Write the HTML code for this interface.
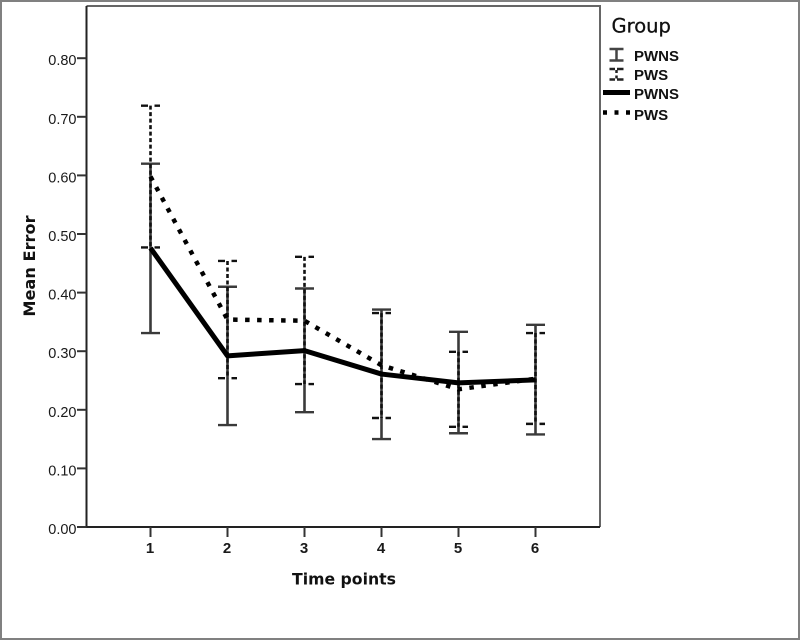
<!DOCTYPE html>
<html>
<head>
<meta charset="utf-8">
<title>Mean Error by Time Point</title>
<style>
html,body{margin:0;padding:0;background:#fff;}
svg{display:block;filter:blur(0.35px);}
text{font-family:"Liberation Sans",sans-serif;fill:#1a1a1a;}
.dj{font-family:"DejaVu Sans",sans-serif;}
</style>
</head>
<body>
<svg id="chart" width="800" height="640" viewBox="0 0 800 640" xmlns="http://www.w3.org/2000/svg">
<rect x="1" y="1" width="798" height="638" fill="#fff" stroke="#808080" stroke-width="2"/>
<rect x="86.5" y="6" width="513.5" height="521" fill="#fff"/>
<g id="marks"></g>
<path d="M86.5 6H600V527" fill="none" stroke="#666" stroke-width="2"/>
<path d="M86.5 6V527H600" fill="none" stroke="#222" stroke-width="2"/>
<g id="axes"></g>
<text class="dj" transform="translate(35 266) rotate(-90)" text-anchor="middle" font-size="16.2" font-weight="700" style="fill:#111">Mean Error</text>
<text class="dj" x="344" y="584.500" text-anchor="middle" font-size="15.700" font-weight="700" style="fill:#111">Time points</text>
<g>
<text class="dj" x="611.500" y="32.500" font-size="19.500" style="fill:#111;stroke:#111;stroke-width:0.3">Group</text>
<path d="M609.500 49H623.500M609.500 60.500H623.500M616.500 49V60.500" fill="none" stroke="#444" stroke-width="2.500"/>
<text x="634" y="61" font-size="15" font-weight="700" style="fill:#111">PWNS</text>
<path d="M609.500 69H623.500M609.500 79.500H623.500" fill="none" stroke="#222" stroke-width="2.500" stroke-dasharray="5.500 2 6.500 0"/>
<path d="M616.500 70V78.500" fill="none" stroke="#222" stroke-width="2.500" stroke-dasharray="3 2.500"/>
<text x="634" y="80" font-size="15" font-weight="700" style="fill:#111">PWS</text>
<line x1="603" y1="92.500" x2="630" y2="92.500" stroke="#000" stroke-width="5"/>
<text x="634" y="99" font-size="15" font-weight="700" style="fill:#111">PWNS</text>
<line x1="603" y1="112.500" x2="630" y2="112.500" stroke="#000" stroke-width="4.500" stroke-dasharray="4 7.500"/>
<text x="634" y="120" font-size="15" font-weight="700" style="fill:#111">PWS</text>
</g>
</svg>
<script>
var categories = [1, 2, 3, 4, 5, 6];
var yTicks = [0, 0.1, 0.2, 0.3, 0.4, 0.5, 0.6, 0.7, 0.8];
var pwnsMean = [0.476, 0.292, 0.301, 0.261, 0.246, 0.251];
var pwnsHigh = [0.620, 0.410, 0.407, 0.371, 0.333, 0.345];
var pwnsLow = [0.331, 0.174, 0.196, 0.150, 0.160, 0.158];
var pwsMean = [0.598, 0.354, 0.352, 0.276, 0.235, 0.253];
var pwsHigh = [0.719, 0.454, 0.461, 0.365, 0.299, 0.331];
var pwsLow = [0.477, 0.254, 0.244, 0.186, 0.171, 0.176];

var NS = 'http://www.w3.org/2000/svg';
function xScale(c) { return 150.5 + (c - 1) * 77; }
function yScale(v) { return 527 - v * 586; }
function make(tag, attrs, parent) {
  var el = document.createElementNS(NS, tag);
  for (var k in attrs) el.setAttribute(k, attrs[k]);
  parent.appendChild(el);
  return el;
}
var marks = document.getElementById('marks');
var axes = document.getElementById('axes');

function drawErrorBars(high, low, label, color, stemDash, capDash) {
  categories.forEach(function (c, i) {
    var x = xScale(c), yh = yScale(high[i]), yl = yScale(low[i]);
    var stem = make('path', {
      d: 'M' + x + ' ' + yh + 'V' + yl,
      fill: 'none', stroke: color, 'stroke-width': 2.6
    }, marks);
    if (stemDash) stem.setAttribute('stroke-dasharray', stemDash);
    
    
    var caps = make('path', {
      d: 'M' + (x - 9.5) + ' ' + yh + 'H' + (x + 9.5) + 'M' + (x - 9.5) + ' ' + yl + 'H' + (x + 9.5),
      fill: 'none', stroke: color, 'stroke-width': 2.4
    }, marks);
    if (capDash) caps.setAttribute('stroke-dasharray', capDash);
    
    
  });
}
function drawLine(values, label, width, dash) {
  var pts = categories.map(function (c, i) { return xScale(c) + ',' + yScale(values[i]); }).join(' ');
  var l = make('polyline', {
    points: pts, fill: 'none', stroke: '#000', 'stroke-width': width, 'stroke-linejoin': 'round'
  }, marks);
  if (dash) l.setAttribute('stroke-dasharray', dash);
  
  
}
drawErrorBars(pwnsHigh, pwnsLow, 'pwns', '#3a3a3a', null, null);
drawErrorBars(pwsHigh, pwsLow, 'pws', '#111', '4 2.5', '7 6.5 5.5 0');
drawLine(pwsMean, 'pws', 4.5, '4.5 7.5');
drawLine(pwnsMean, 'pwns', 5, null);

yTicks.forEach(function (v) {
  var y = yScale(v);
  var t = make('line', { x1: 77, x2: 86.5, y1: y, y2: y, stroke: '#333', 'stroke-width': 2 }, axes);
  
  
  var s = make('text', { x: 76.5, y: y + 7, 'text-anchor': 'end', 'font-size': 14.5 }, axes);
  s.textContent = v.toFixed(2);
  
  
});
categories.forEach(function (c) {
  var x = xScale(c);
  var t = make('line', { x1: x, x2: x, y1: 527, y2: 537, stroke: '#333', 'stroke-width': 2 }, axes);
  
  
  var s = make('text', { x: x - 0.5, y: 553, 'text-anchor': 'middle', 'font-size': 15, 'font-weight': 700 }, axes);
  s.textContent = String(c);
  
  
});
</script>
</body>
</html>
